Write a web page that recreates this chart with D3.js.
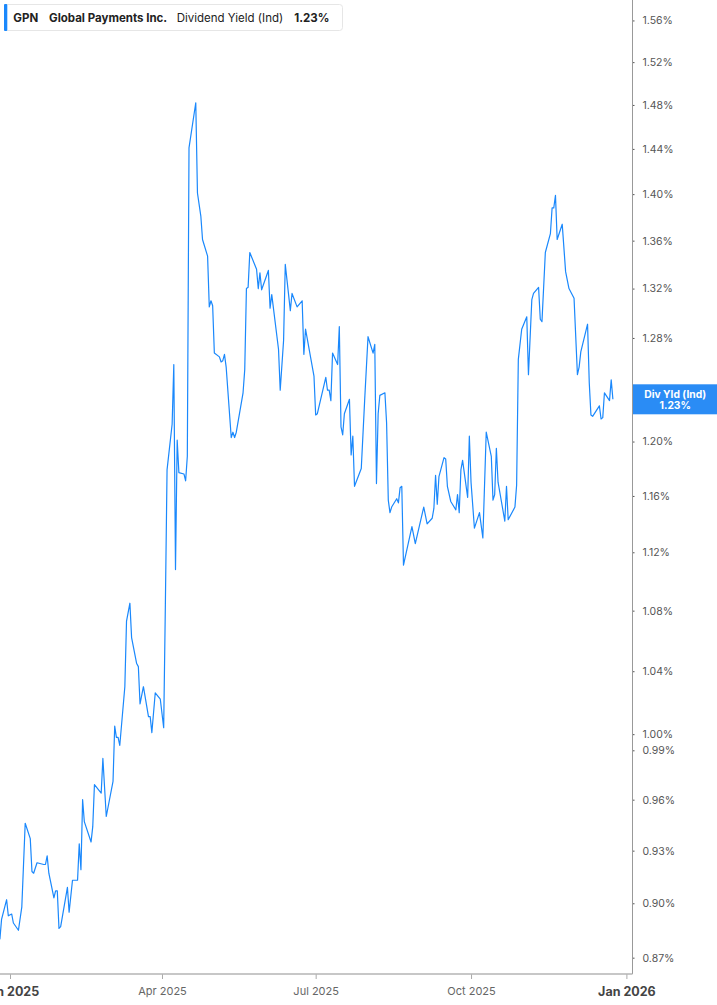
<!DOCTYPE html>
<html>
<head>
<meta charset="utf-8">
<script src="https://cdn.jsdelivr.net/npm/d3@7"></script>
<style>
  body { margin: 0; background: #fff; }
  svg { display: block; font-family: Inter, Roboto, "Noto Sans", sans-serif; }
</style>
</head>
<body>
<script>
// Chart data: GPN dividend yield (indicated), % values
var dates = [
  "2024-12-26","2024-12-27","2024-12-30","2024-12-31","2025-01-02","2025-01-03","2025-01-06","2025-01-08",
  "2025-01-10","2025-01-13","2025-01-14","2025-01-15","2025-01-17","2025-01-21","2025-01-22","2025-01-23",
  "2025-01-24","2025-01-27","2025-01-28","2025-01-29","2025-01-30","2025-01-31","2025-02-04","2025-02-05",
  "2025-02-07","2025-02-10","2025-02-11","2025-02-12","2025-02-13","2025-02-14","2025-02-18","2025-02-19",
  "2025-02-20","2025-02-24","2025-02-25","2025-02-27","2025-03-03","2025-03-04","2025-03-05","2025-03-06",
  "2025-03-07","2025-03-10","2025-03-11","2025-03-13","2025-03-14","2025-03-17","2025-03-18","2025-03-19",
  "2025-03-21","2025-03-24","2025-03-25","2025-03-26","2025-03-28","2025-03-31","2025-04-02","2025-04-03",
  "2025-04-04","2025-04-07","2025-04-08","2025-04-09","2025-04-10","2025-04-11","2025-04-14","2025-04-15",
  "2025-04-16","2025-04-17","2025-04-21","2025-04-22","2025-04-24","2025-04-25","2025-04-28","2025-04-29",
  "2025-04-30","2025-05-01","2025-05-02","2025-05-05","2025-05-06","2025-05-07","2025-05-08","2025-05-09",
  "2025-05-12","2025-05-13","2025-05-14","2025-05-15","2025-05-19","2025-05-20","2025-05-21","2025-05-22",
  "2025-05-23","2025-05-27","2025-05-28","2025-05-29","2025-05-30","2025-06-03","2025-06-04","2025-06-05",
  "2025-06-09","2025-06-10","2025-06-12","2025-06-13","2025-06-16","2025-06-17","2025-06-20","2025-06-23",
  "2025-06-24","2025-06-25","2025-06-30","2025-07-01","2025-07-02","2025-07-07","2025-07-08","2025-07-09",
  "2025-07-10","2025-07-11","2025-07-14","2025-07-15","2025-07-16","2025-07-17","2025-07-18","2025-07-21",
  "2025-07-22","2025-07-23","2025-07-24","2025-07-28","2025-07-30","2025-08-01","2025-08-04","2025-08-05",
  "2025-08-06","2025-08-07","2025-08-08","2025-08-11","2025-08-12","2025-08-13","2025-08-14","2025-08-15",
  "2025-08-18","2025-08-19","2025-08-20","2025-08-21","2025-08-22","2025-08-27","2025-08-29","2025-09-03",
  "2025-09-05","2025-09-08","2025-09-09","2025-09-10","2025-09-11","2025-09-12","2025-09-15","2025-09-16",
  "2025-09-17","2025-09-19","2025-09-22","2025-09-23","2025-09-24","2025-09-25","2025-09-26","2025-09-29",
  "2025-09-30","2025-10-01","2025-10-03","2025-10-06","2025-10-08","2025-10-10","2025-10-13","2025-10-14",
  "2025-10-15","2025-10-16","2025-10-17","2025-10-21","2025-10-22","2025-10-23","2025-10-27","2025-10-28",
  "2025-10-29","2025-10-31","2025-11-03","2025-11-04","2025-11-06","2025-11-07","2025-11-10","2025-11-11",
  "2025-11-12","2025-11-14","2025-11-17","2025-11-18","2025-11-19","2025-11-20","2025-11-21","2025-11-24",
  "2025-11-26","2025-11-28","2025-12-01","2025-12-03","2025-12-04","2025-12-05","2025-12-09","2025-12-10",
  "2025-12-11","2025-12-12","2025-12-16","2025-12-17","2025-12-18","2025-12-19","2025-12-22","2025-12-23",
  "2025-12-24"
];

var yieldValues = [
  0.880,0.891,0.902,0.893,0.894,0.889,0.885,0.898,
  0.946,0.937,0.918,0.917,0.923,0.922,0.922,0.927,
  0.917,0.903,0.907,0.907,0.886,0.887,0.909,0.895,
  0.913,0.913,0.934,0.919,0.960,0.947,0.935,0.944,
  0.969,0.964,0.985,0.950,0.971,1.005,0.998,0.998,
  0.993,1.030,1.073,1.085,1.062,1.045,1.043,1.019,
  1.030,1.011,1.011,1.001,1.026,1.022,1.004,1.084,
  1.179,1.213,1.259,1.108,1.201,1.177,1.176,1.171,
  1.189,1.441,1.482,1.401,1.381,1.361,1.347,1.305,
  1.310,1.306,1.268,1.265,1.261,1.262,1.267,1.257,
  1.203,1.207,1.203,1.207,1.237,1.255,1.320,1.321,
  1.350,1.336,1.320,1.333,1.319,1.335,1.304,1.315,
  1.271,1.239,1.278,1.340,1.302,1.316,1.305,1.310,
  1.267,1.287,1.250,1.220,1.221,1.249,1.239,1.239,
  1.231,1.268,1.259,1.289,1.211,1.205,1.221,1.232,
  1.190,1.204,1.167,1.180,1.231,1.281,1.268,1.275,
  1.169,1.221,1.235,1.237,1.214,1.157,1.148,1.152,
  1.158,1.155,1.166,1.167,1.111,1.138,1.126,1.152,
  1.140,1.144,1.151,1.175,1.154,1.174,1.188,1.187,
  1.167,1.156,1.150,1.161,1.148,1.179,1.186,1.159,
  1.204,1.170,1.137,1.148,1.130,1.207,1.189,1.157,
  1.161,1.195,1.170,1.142,1.167,1.143,1.152,1.168,
  1.263,1.287,1.297,1.251,1.311,1.316,1.321,1.295,
  1.293,1.350,1.366,1.388,1.388,1.399,1.361,1.374,
  1.334,1.320,1.312,1.251,1.257,1.269,1.291,1.245,
  1.220,1.219,1.227,1.217,1.218,1.237,1.231,1.247,
  1.232
];

var yTicks = [1.56,1.52,1.48,1.44,1.40,1.36,1.32,1.28,1.24,1.20,1.16,1.12,1.08,1.04,1.00,0.99,0.96,0.93,0.90,0.87];
var xTicks = ["2025-01-01","2025-04-01","2025-07-01","2025-10-01","2026-01-01"];

var ticker = "GPN";
var company = "Global Payments Inc.";
var metric = "Dividend Yield (Ind)";
var shortMetric = "Div Yld (Ind)";
var lastValue = "1.23%";

// Canvas
var w = 717;
var h = 1005;
var plotRight = 632.5;
var plotBottom = 974;
var lineColor = "#1a88fc";

var parse = d3.timeParse("%Y-%m-%d");
var data = dates.map(function(d, i) {
    return { date: parse(d), value: yieldValues[i] };
});

// Time scale anchored on the two January ticks
var x = d3.scaleTime()
    .domain([parse("2025-01-01"), parse("2026-01-01")])
    .range([10, 626.4]);

// Log scale for the yield
var y = d3.scaleLog()
    .domain([0.8612, 1.58])
    .range([plotBottom, 0]);

var svg = d3.select("body")
    .append("svg")
    .attr("width", w)
    .attr("height", h);

// Line
var line = d3.line()
    .x(function(d) { return x(d.date); })
    .y(function(d) { return y(d.value); });

svg.append("path")
    .datum(data)
    .attr("fill", "none")
    .attr("stroke", lineColor)
    .attr("stroke-width", 1.2)
    .attr("stroke-linejoin", "round")
    .attr("d", line);

// Right axis
var yAxis = svg.append("g")
    .attr("transform", "translate(" + plotRight + ",0)")
    .call(d3.axisRight(y)
        .tickValues(yTicks)
        .tickSize(2)
        .tickSizeOuter(0)
        .tickPadding(8)
        .tickFormat(function(d) { return d.toFixed(2) + "%"; }));

yAxis.select(".domain").remove();
yAxis.selectAll(".tick line").attr("stroke", "#555");
yAxis.selectAll(".tick text")
    .attr("fill", "#555")
    .attr("font-size", 10.5)
    .attr("font-family", "Inter, Roboto, sans-serif");

svg.append("line")
    .attr("x1", plotRight).attr("x2", plotRight)
    .attr("y1", 0).attr("y2", plotBottom)
    .attr("stroke", "#999")
    .attr("stroke-width", 1);

// Bottom axis
var xAxis = svg.append("g")
    .attr("transform", "translate(0," + plotBottom + ")")
    .call(d3.axisBottom(x)
        .tickValues(xTicks.map(parse))
        .tickSize(5)
        .tickSizeOuter(0)
        .tickPadding(8)
        .tickFormat(d3.timeFormat("%b %Y")));

xAxis.select(".domain").remove();
xAxis.selectAll(".tick line").attr("stroke", "#aaa");
xAxis.selectAll(".tick text")
    .attr("fill", function(d) { return d.getMonth() === 0 ? "#444" : "#666"; })
    .attr("font-weight", function(d) { return d.getMonth() === 0 ? "bold" : "normal"; })
    .attr("font-size", function(d) { return d.getMonth() === 0 ? 12.5 : 11; })
    .attr("font-family", "Inter, Roboto, sans-serif");

svg.append("line")
    .attr("x1", 0).attr("x2", plotRight)
    .attr("y1", plotBottom).attr("y2", plotBottom)
    .attr("stroke", "#b5b5b5")
    .attr("stroke-width", 1.5);

// Last value label on the axis
var lastY = y(yieldValues[yieldValues.length - 1]);
var tag = svg.append("g").attr("transform", "translate(" + (plotRight + 0.5) + "," + (lastY - 15) + ")");
tag.append("rect")
    .attr("width", w - plotRight)
    .attr("height", 30)
    .attr("fill", "#2a8cf5");
tag.append("text")
    .attr("x", (w - plotRight) / 2)
    .attr("y", 13.5)
    .attr("text-anchor", "middle")
    .attr("fill", "#fff")
    .attr("font-size", 10.3)
    .attr("font-weight", "bold")
    .text(shortMetric);
tag.append("text")
    .attr("x", (w - plotRight) / 2)
    .attr("y", 24.5)
    .attr("text-anchor", "middle")
    .attr("fill", "#fff")
    .attr("font-size", 10.3)
    .attr("font-weight", "bold")
    .text(lastValue);

// Legend header
var legend = svg.append("g");
legend.append("rect")
    .attr("x", 4.5).attr("y", 4.5)
    .attr("width", 338).attr("height", 26)
    .attr("rx", 3)
    .attr("fill", "#fff")
    .attr("stroke", "#e6e6e6");
legend.append("rect")
    .attr("x", 4).attr("y", 4)
    .attr("width", 3.3).attr("height", 27)
    .attr("rx", 1)
    .attr("fill", lineColor);

var parts = [
    { text: ticker, x: 13.3, bold: true },
    { text: company, x: 49, bold: true },
    { text: metric, x: 176.7, bold: false },
    { text: lastValue, x: 294.3, bold: true }
];
legend.selectAll("text.part")
    .data(parts)
    .enter()
    .append("text")
    .attr("class", "part")
    .attr("x", function(d) { return d.x; })
    .attr("y", 21.5)
    .attr("fill", "#222")
    .attr("font-size", 11.5)
    .attr("font-weight", function(d) { return d.bold ? "bold" : "normal"; })
    .text(function(d) { return d.text; });
</script>
</body>
</html>
